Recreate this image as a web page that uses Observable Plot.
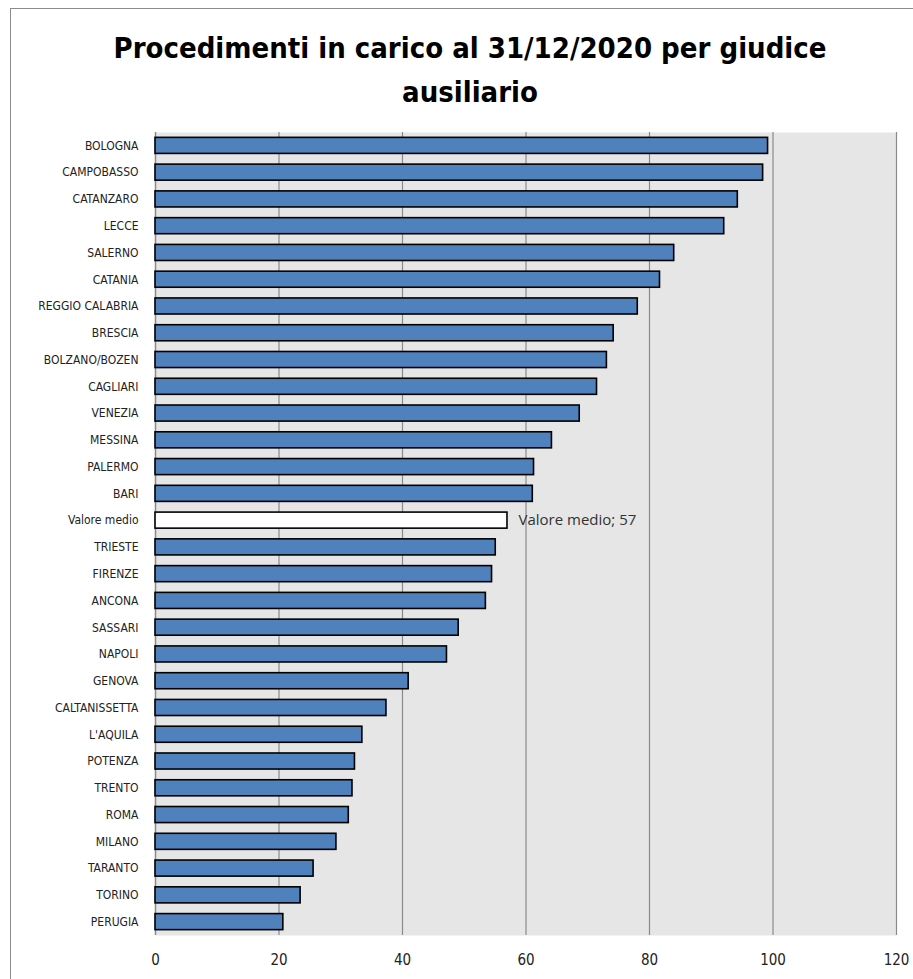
<!DOCTYPE html>
<html>
<head>
<meta charset="utf-8">
<script src="https://cdn.jsdelivr.net/npm/d3@7"></script>
<script src="https://cdn.jsdelivr.net/npm/@observablehq/plot@0.6"></script>
<style>
  html, body { margin: 0; padding: 0; background: #fff; overflow: hidden; }
  #frame { position: absolute; left: 10px; top: 8px; width: 904px; height: 990px; border: 1.5px solid #8c8c8c; box-sizing: border-box; }
  #title { position: absolute; left: 0; top: 26px; width: 940px; text-align: center; font-family: "DejaVu Sans Condensed", "Open Sans", sans-serif; font-weight: bold; font-size: 29px; line-height: 44px; color: #000; }
  #chart { position: absolute; left: 0; top: 120px; }
</style>
</head>
<body>
<div id="frame"></div>
<div id="title">Procedimenti in carico al 31/12/2020 per giudice<br>ausiliario</div>
<div id="chart"></div>
<script>
const categories = ["BOLOGNA","CAMPOBASSO","CATANZARO","LECCE","SALERNO","CATANIA","REGGIO CALABRIA","BRESCIA","BOLZANO/BOZEN","CAGLIARI","VENEZIA","MESSINA","PALERMO","BARI","Valore medio","TRIESTE","FIRENZE","ANCONA","SASSARI","NAPOLI","GENOVA","CALTANISSETTA","L'AQUILA","POTENZA","TRENTO","ROMA","MILANO","TARANTO","TORINO","PERUGIA"];
const values = [99.2,98.4,94.3,92.1,84.0,81.7,78.1,74.2,73.1,71.5,68.7,64.2,61.3,61.1,57,55.1,54.5,53.5,49.1,47.2,41.0,37.4,33.5,32.3,31.9,31.3,29.3,25.6,23.5,20.7];
const xTicks = [0,20,40,60,80,100,120];
const averageLabel = "Valore medio";

const data = categories.map((c, i) => ({name: c, value: values[i], avg: c === averageLabel}));
const avg = data.filter(d => d.avg);

const chart = Plot.plot({
  width: 913,
  height: 859,
  marginLeft: 155,
  marginRight: 17,
  marginTop: 12,
  marginBottom: 44,
  style: { fontFamily: "'DejaVu Sans Condensed', sans-serif", fontSize: "12px", color: "#222", background: "transparent", overflow: "visible" },
  x: { domain: [0, 120], ticks: xTicks, label: null },
  y: { domain: categories, label: null, paddingInner: 0.4, paddingOuter: 0.2, round: false },
  marks: [
    Plot.frame({ fill: "#e6e6e6", stroke: null }),
    Plot.ruleX(xTicks.filter(t => t > 0), { stroke: "#8a8a8a", strokeWidth: 1.2 }),
    Plot.ruleX([0], { stroke: "#8a8a8a", strokeWidth: 1.5 }),
    Plot.barX(data, { y: "name", x: "value", fill: d => d.avg ? "#ffffff" : "#4f81bd", stroke: "#000", strokeWidth: 1.6 }),
    Plot.text(avg, { y: "name", x: "value", text: d => `${d.name}; ${d.value}`, textAnchor: "start", dx: 11, fontSize: 15, fill: "#333", fontFamily: "'Open Sans', 'DejaVu Sans', sans-serif" }),
    Plot.axisX({ ticks: xTicks, tickSize: 0, tickPadding: 19, fontSize: 15, label: null }),
    Plot.axisY({ tickSize: 0, tickPadding: 17, label: null })
  ]
});
document.getElementById("chart").appendChild(chart);
</script>
</body>
</html>
